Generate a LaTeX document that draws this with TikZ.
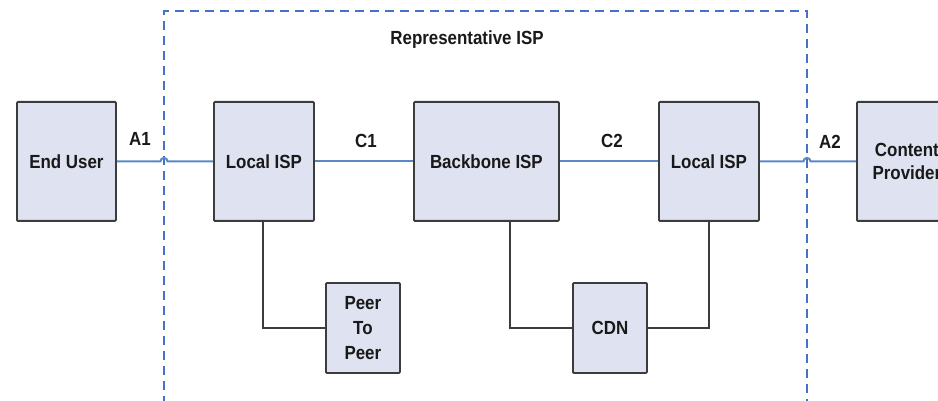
\documentclass[tikz,border=0pt]{standalone}
\usepackage{fontspec}
\newfontfamily\boxfont[FakeStretch=0.89]{Liberation Sans}
\definecolor{boxfill}{RGB}{223,227,241}
\definecolor{boxline}{RGB}{60,60,60}
\definecolor{linkblue}{RGB}{91,135,196}
\definecolor{dashblue}{RGB}{68,114,196}
\begin{document}
\begin{tikzpicture}[x=1pt,y=-1pt,
  txt/.style={font=\boxfont\fontsize{19}{24}\selectfont\bfseries,align=center,text=black!90},
  box/.style={txt,draw=boxline,fill=boxfill,line width=1.8pt,rounded corners=1pt,inner sep=0pt,anchor=north west},
  lbl/.style={txt},
  bluelink/.style={draw=linkblue,line width=2pt},
  graylink/.style={draw=boxline,line width=1.8pt}]
\useasboundingbox (0,0) rectangle (938,401);
\clip (0,0) rectangle (938,401);
% dashed ISP region
\draw[dashblue,line width=1.6pt,dash pattern=on 9pt off 6pt] (164,420) -- (164,11) -- (807,11) -- (807,420);
\node[lbl] (title) at (467,40) {Representative ISP};
% boxes
\node[box,minimum width=99pt,minimum height=119pt] (eu) at (16,101) {End User};
\node[box,minimum width=100pt,minimum height=119pt] (l1) at (213,101) {Local ISP};
\node[box,minimum width=145pt,minimum height=119pt] (bb) at (413,101) {Backbone ISP};
\node[box,minimum width=100pt,minimum height=119pt] (l2) at (658,101) {Local ISP};
\node[box,minimum width=100pt,minimum height=119pt,font=\boxfont\fontsize{19}{23}\selectfont\bfseries] (cp) at (856,101) {Content\\Provider};
\node[box,minimum width=74pt,minimum height=90pt,font=\boxfont\fontsize{19}{25}\selectfont\bfseries] (p2p) at (325,282) {Peer\\To\\Peer};
\node[box,minimum width=74pt,minimum height=90pt] (cdn) at (572,282) {CDN};
% labels
\node[lbl] (a1) at (140,139) {A1};
\node[lbl] (c1) at (366,141) {C1};
\node[lbl] (c2) at (612,141) {C2};
\node[lbl] (a2) at (830,142) {A2};
% blue links with hops over the dashed border
\coordinate (h1) at (eu.east -| 160.5,0);
\coordinate (h2) at (l2.east -| 803.5,0);
\draw[bluelink] (eu.east) -- (h1) arc[start angle=180,end angle=0,radius=3.5pt] -- (l1.west);
\draw[bluelink] (l1.east) -- (bb.west);
\draw[bluelink] (bb.east) -- (l2.west);
\draw[bluelink] (l2.east) -- (h2) arc[start angle=180,end angle=0,radius=3.5pt] -- (cp.west);
% gray links
\draw[graylink] (l1.south -| 263,0) |- (p2p.west);
\draw[graylink] (bb.south -| 510,0) |- (cdn.west);
\draw[graylink] (cdn.east) -| (l2.south);
\end{tikzpicture}
\end{document}
